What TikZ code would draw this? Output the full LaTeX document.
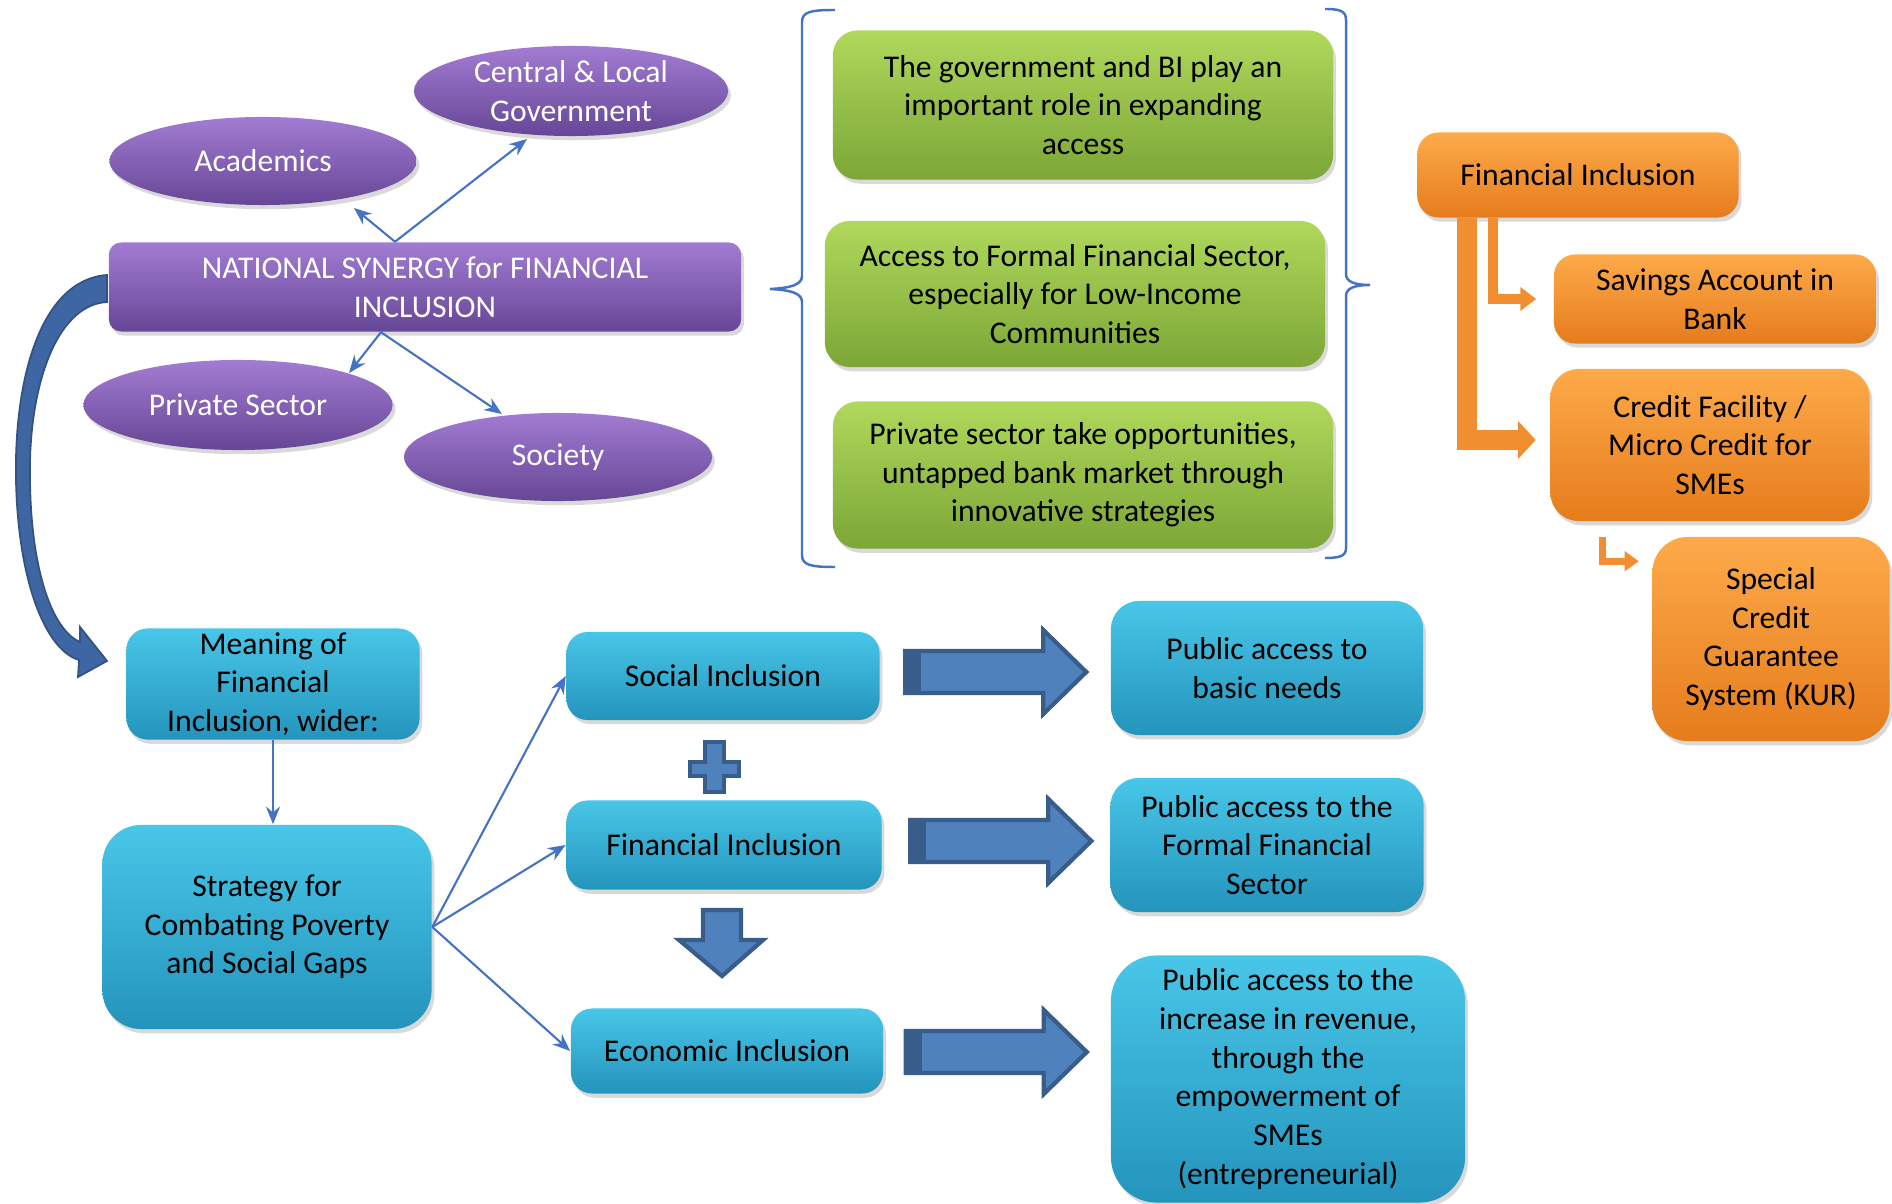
\documentclass[tikz,border=0pt]{standalone}
\usepackage{fontspec}
\setmainfont{Carlito}
\usetikzlibrary{shapes.geometric,shadows,arrows.meta,calc}

\definecolor{purpletop}{RGB}{162,124,210}
\definecolor{purplebot}{RGB}{102,70,150}
\definecolor{greentop}{RGB}{176,216,92}
\definecolor{greenbot}{RGB}{124,166,54}
\definecolor{orangetop}{RGB}{253,170,74}
\definecolor{orangebot}{RGB}{230,124,28}
\definecolor{tealtop}{RGB}{72,198,232}
\definecolor{tealbot}{RGB}{36,148,188}
\definecolor{linkblue}{RGB}{68,114,196}
\definecolor{fatblue}{RGB}{79,129,189}
\definecolor{fatedge}{RGB}{56,93,138}
\definecolor{curveblue}{RGB}{62,102,162}
\definecolor{bentorange}{RGB}{240,142,48}

\tikzset{
  boxbase/.style={align=center, inner sep=1pt, font=\fontsize{9}{11}\selectfont,
    drop shadow={opacity=0.3, shadow xshift=0.8pt, shadow yshift=-1.2pt}},
  purplebox/.style={boxbase, text=white, top color=purpletop, bottom color=purplebot},
  greenbox/.style={boxbase, rectangle, rounded corners=7pt, top color=greentop, bottom color=greenbot},
  orangebox/.style={boxbase, rectangle, rounded corners=6pt, top color=orangetop, bottom color=orangebot},
  tealbox/.style={boxbase, rectangle, rounded corners=6pt, top color=tealtop, bottom color=tealbot},
  link/.style={linkblue, line width=0.6pt, -{Stealth[length=5pt,width=4pt]}},
  brace/.style={linkblue, line width=0.7pt},
  bentarrow/.style={bentorange},
  fatarrow/.pic={
    \filldraw[fill=fatblue, draw=fatedge, line width=1.2pt]
      (0,-21) -- (138,-21) -- (138,-42) -- (181,0) -- (138,42) -- (138,21) -- (0,21) -- cycle;
    \fill[fatedge] (0,-21) rectangle (16,21);
  }
}

\begin{document}
\begin{tikzpicture}[x=0.01cm, y=-0.01cm]
  \useasboundingbox (0,0) rectangle (1892,1204);

  % national synergy and its partners
  \node[purplebox, rectangle, rounded corners=3.5pt, minimum width=6.32cm, minimum height=0.89cm] (national) at (425,287) {NATIONAL SYNERGY for FINANCIAL\\INCLUSION};
  \node[purplebox, ellipse, inner sep=0pt, minimum width=3.07cm, minimum height=0.88cm] (academics) at (263,161) {Academics};
  \node[purplebox, ellipse, inner sep=0pt, inner ysep=-1pt, minimum width=3.14cm, minimum height=0.9cm] (central) at (571,91) {Central \& Local\\Government};
  \node[purplebox, ellipse, inner sep=0pt, minimum width=3.09cm, minimum height=0.9cm] (private) at (238,405) {Private Sector};
  \node[purplebox, ellipse, inner sep=0pt, minimum width=3.08cm, minimum height=0.88cm] (society) at (558,457) {Society};

  \draw[link] ([xshift=-0.3cm]national.north) -- ($(academics.center)+(91,47)$);
  \draw[link] ([xshift=-0.3cm]national.north) -- ($(central.center)+(-44,48)$);
  \draw[link] ([xshift=-0.44cm]national.south) -- ($(private.center)+(111,-32)$);
  \draw[link] ([xshift=-0.44cm]national.south) -- ($(society.center)+(-56,-43)$);

  % roles
  \node[greenbox, minimum width=5cm, minimum height=1.49cm] (govrole) at (1083,105) {The government and BI play an\\important role in expanding\\access};
  \node[greenbox, minimum width=5cm, minimum height=1.46cm] (access) at (1075,294) {Access to Formal Financial Sector,\\especially for Low-Income\\Communities};
  \node[greenbox, minimum width=5cm, minimum height=1.47cm] (privsec) at (1083,475) {Private sector take opportunities,\\untapped bank market through\\innovative strategies};

  \draw[brace] (835,10) .. controls (810,10) and (802,12) .. (802,22) -- (802,276)
    .. controls (802,285) and (790,288) .. (770,289) .. controls (790,290) and (802,293) .. (802,302)
    -- (802,555) .. controls (802,565) and (810,567) .. (835,567);
  \draw[brace] (1325,9) .. controls (1340,9) and (1346,11) .. (1346,20) -- (1346,274)
    .. controls (1346,282) and (1355,285) .. (1370,285) .. controls (1355,285) and (1346,288) .. (1346,296)
    -- (1346,548) .. controls (1346,556) and (1340,558) .. (1325,558);

  % financial inclusion products
  \node[orangebox, minimum width=3.21cm, minimum height=0.85cm] (fi) at (1578,175) {Financial Inclusion};
  \node[orangebox, minimum width=3.22cm, minimum height=0.89cm] (savings) at (1715,299) {Savings Account in\\Bank};
  \node[orangebox, rounded corners=8pt, minimum width=3.19cm, minimum height=1.52cm] (credit) at (1710,445) {Credit Facility /\\Micro Credit for\\SMEs};
  \node[orangebox, rounded corners=10pt, minimum width=2.37cm, minimum height=2.04cm] (special) at (1771,639) {Special\\Credit\\Guarantee\\System (KUR)};

  \draw[bentarrow, line width=5.7pt, -{Triangle[length=5pt,width=10.5pt]}] ([xshift=0.5cm]fi.south west) |- ([xshift=-0.14cm,yshift=0.05cm]credit.west);
  \draw[bentarrow, line width=3pt, -{Triangle[length=4.5pt,width=6.5pt]}] ([xshift=0.76cm]fi.south west) |- ([xshift=-0.17cm]savings.west);
  \draw[bentarrow, line width=2pt, -{Triangle[length=4pt,width=5.5pt]}] ([xshift=0.53cm,yshift=-0.15cm]credit.south west) |- ($(special.north west)+(-13,25)$);

  % meaning of financial inclusion
  \node[tealbox, minimum width=2.93cm, minimum height=1.11cm] (meaning) at (273,684) {Meaning of\\Financial\\Inclusion, wider:};
  \node[tealbox, rounded corners=11pt, minimum width=3.29cm, minimum height=2.04cm] (strategy) at (267,927) {Strategy for\\Combating Poverty\\and Social Gaps};
  \node[tealbox, minimum width=3.13cm, minimum height=0.88cm] (social) at (723,676) {Social Inclusion};
  \node[tealbox, minimum width=3.15cm, minimum height=0.89cm] (finincl) at (724,845) {Financial Inclusion};
  \node[tealbox, minimum width=3.12cm, minimum height=0.85cm] (econ) at (727,1051) {Economic Inclusion};
  \node[tealbox, rounded corners=8pt, minimum width=3.12cm, minimum height=1.34cm] (basic) at (1267,668) {Public access to\\basic needs};
  \node[tealbox, rounded corners=8pt, minimum width=3.13cm, minimum height=1.34cm] (formal) at (1267,845) {Public access to the\\Formal Financial\\Sector};
  \node[tealbox, rounded corners=13pt, minimum width=3.54cm, minimum height=2.47cm] (revenue) at (1288,1079) {Public access to the\\increase in revenue,\\through the\\empowerment of\\SMEs\\(entrepreneurial)};

  \draw[link] (meaning.south) -- (meaning.south |- strategy.north);
  \draw[link] (strategy.east) -- (social.west);
  \draw[link] (strategy.east) -- (finincl.west);
  \draw[link] (strategy.east) -- (econ.west);

  \pic at ($(social.east)+(25,-4)$) {fatarrow};
  \pic at ($(finincl.east)+(28,-4)$) {fatarrow};
  \pic at ($(econ.east)+(22,1)$) {fatarrow};

  % plus and down arrow
  \filldraw[fill=fatblue, draw=fatedge, line width=1.2pt]
    (705,742) -- (724,742) -- (724,762) -- (739,762) -- (739,776) -- (724,776) -- (724,792)
    -- (705,792) -- (705,776) -- (690,776) -- (690,762) -- (705,762) -- cycle;
  \filldraw[fill=fatblue, draw=fatedge, line width=1.2pt]
    (703,910) -- (741,910) -- (741,940) -- (763,940) -- (722,976) -- (679,940) -- (703,940) -- cycle;

  % curved arrow from national synergy down to meaning
  \filldraw[fill=curveblue, draw=curveblue!80!black, line width=0.5pt]
    (107,275) .. controls (40,280) and (14,380) .. (16,480)
    .. controls (18,580) and (45,650) .. (79,660)
    -- (78,677) -- (107,661) -- (80,627) -- (80,642)
    .. controls (52,630) and (31,570) .. (30,480)
    .. controls (28,390) and (55,305) .. (107,302) -- cycle;
\end{tikzpicture}
\end{document}
